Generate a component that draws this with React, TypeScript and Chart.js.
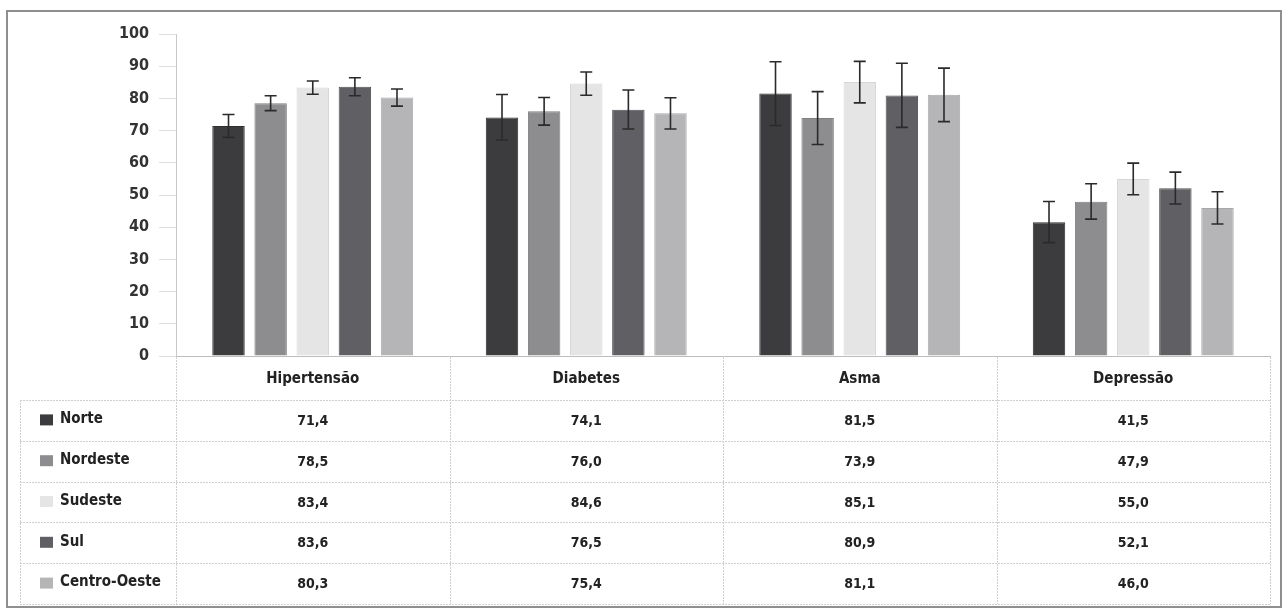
import React, { useEffect, useRef } from "react";
import { Chart, registerables } from "chart.js";

Chart.register(...registerables);

const categories = ["Hipertensão", "Diabetes", "Asma", "Depressão"];
const regions = ["Norte", "Nordeste", "Sudeste", "Sul", "Centro-Oeste"];

const norte = [71.4, 74.1, 81.5, 41.5];
const nordeste = [78.5, 76.0, 73.9, 47.9];
const sudeste = [83.4, 84.6, 85.1, 55.0];
const sul = [83.6, 76.5, 80.9, 52.1];
const centroOeste = [80.3, 75.4, 81.1, 46.0];

const norteLow = [67.9, 67.1, 71.6, 35.2];
const norteHigh = [75.0, 81.2, 91.4, 48.0];
const nordesteLow = [76.2, 71.7, 65.7, 42.5];
const nordesteHigh = [80.8, 80.3, 82.1, 53.5];
const sudesteLow = [81.3, 81.0, 78.6, 50.1];
const sudesteHigh = [85.4, 88.2, 91.5, 59.9];
const sulLow = [80.8, 70.5, 71.0, 47.2];
const sulHigh = [86.4, 82.6, 90.9, 57.1];
const centroOesteLow = [77.6, 70.5, 72.8, 41.0];
const centroOesteHigh = [82.9, 80.2, 89.4, 51.0];

const yTicks = [0, 10, 20, 30, 40, 50, 60, 70, 80, 90, 100];

const seriesValues = [norte, nordeste, sudeste, sul, centroOeste];
const seriesLow = [norteLow, nordesteLow, sudesteLow, sulLow, centroOesteLow];
const seriesHigh = [norteHigh, nordesteHigh, sudesteHigh, sulHigh, centroOesteHigh];
const colors = ["#3c3c3e", "#8d8d8f", "#e5e5e5", "#606064", "#b5b5b7"];
const borders = ["#2e2e30", "#7e7e80", "#d6d6d6", "#525256", "#a8a8aa"];

const FONT = "'Liberation Sans Narrow', 'DejaVu Sans Condensed', 'Arial Narrow', sans-serif";

const fmt = (v: number) => v.toFixed(1).replace(".", ",");

const errorBarPlugin = {
  id: "errorBars",
  afterDatasetsDraw(chart: any) {
    const ctx = chart.ctx;
    const y = chart.scales.y;
    ctx.save();
    ctx.strokeStyle = "#2a2a2a";
    ctx.lineWidth = 1.6;
    chart.data.datasets.forEach((ds: any, di: number) => {
      const meta = chart.getDatasetMeta(di);
      meta.data.forEach((el: any, i: number) => {
        const x = el.x;
        const yl = y.getPixelForValue(seriesLow[di][i]);
        const yh = y.getPixelForValue(seriesHigh[di][i]);
        const cap = 6;
        ctx.beginPath();
        ctx.moveTo(x, yl);
        ctx.lineTo(x, yh);
        ctx.moveTo(x - cap, yh);
        ctx.lineTo(x + cap, yh);
        ctx.moveTo(x - cap, yl);
        ctx.lineTo(x + cap, yl);
        ctx.stroke();
      });
    });
    ctx.restore();
  },
};

const tablePlugin = {
  id: "dataTable",
  afterDraw(chart: any) {
    const ctx = chart.ctx;
    const xs = chart.scales.x;
    const area = chart.chartArea;
    const n = categories.length;
    const colW = (area.right - area.left) / n;
    const headerTop = area.bottom + 1;
    const headerBottom = area.bottom + 44;
    const tableBottom = 604;
    const tableLeft = 20;
    const rowH = (tableBottom - headerBottom) / regions.length;

    ctx.save();
    ctx.strokeStyle = "#cfcfcf";
    ctx.lineWidth = 1;
    ctx.setLineDash([2, 1]);
    ctx.beginPath();
    // vertical lines
    for (let i = 0; i <= n; i++) {
      const x = Math.round(area.left + i * colW) + 0.5;
      ctx.moveTo(x, headerTop);
      ctx.lineTo(x, tableBottom);
    }
    ctx.moveTo(tableLeft + 0.5, headerBottom);
    ctx.lineTo(tableLeft + 0.5, tableBottom);
    // horizontal lines
    for (let r = 0; r <= regions.length; r++) {
      const yy = Math.round(headerBottom + r * rowH) + 0.5;
      ctx.moveTo(tableLeft, yy);
      ctx.lineTo(area.right, yy);
    }
    ctx.stroke();
    ctx.setLineDash([]);

    // rows
    ctx.textBaseline = "middle";
    regions.forEach((reg, r) => {
      const cy = headerBottom + (r + 0.5) * rowH;
      ctx.fillStyle = colors[r];
      ctx.fillRect(40, cy - 6, 13, 11);
      ctx.fillStyle = "#222";
      ctx.font = `bold 15px ${FONT}`;
      ctx.textAlign = "left";
      ctx.fillText(reg, 60, cy - 1);
      ctx.textAlign = "center";
      ctx.font = `bold 14px ${FONT}`;
      seriesValues[r].forEach((v, c) => {
        const cx = xs.getPixelForValue(c);
        ctx.fillText(fmt(v), cx, cy + 1);
      });
    });

    // outer frame
    ctx.strokeStyle = "#8f8f8f";
    ctx.lineWidth = 2;
    ctx.strokeRect(7, 11, 1274, 596);
    ctx.restore();
  },
};

export default function App() {
  const ref = useRef<HTMLCanvasElement | null>(null);

  useEffect(() => {
    if (!ref.current) return;
    const chart = new Chart(ref.current, {
      type: "bar",
      data: {
        labels: categories,
        datasets: regions.map((reg, i) => ({
          label: reg,
          data: seriesValues[i],
          backgroundColor: colors[i],
          borderColor: borders[i],
          borderWidth: 1,
          categoryPercentage: 0.77,
          barPercentage: 0.77,
        })),
      },
      options: {
        responsive: false,
        animation: false,
        layout: { padding: { left: 76, right: 13, top: 34, bottom: 212 } },
        plugins: {
          legend: { display: false },
          tooltip: { enabled: false },
        },
        scales: {
          x: {
            grid: { drawOnChartArea: false, drawTicks: false },
            border: { color: "#bdbdbd", width: 1 },
            ticks: {
              color: "#222",
              padding: 14,
              font: { family: FONT, size: 15, weight: "bold" },
            },
            afterFit: (s: any) => {
              s.height = 44;
            },
          },
          y: {
            min: 0,
            max: 100,
            afterBuildTicks: (s: any) => {
              s.ticks = yTicks.map((v) => ({ value: v }));
            },
            grid: {
              drawOnChartArea: false,
              drawTicks: true,
              tickLength: 17,
              color: "#dedede",
            },
            border: { color: "#c8c8c8", width: 1 },
            ticks: {
              color: "#333",
              padding: 10,
              font: { family: FONT, size: 16, weight: "bold" },
            },
            afterFit: (s: any) => {
              s.width = 100;
            },
          },
        },
      },
      plugins: [errorBarPlugin, tablePlugin],
    });
    return () => chart.destroy();
  }, []);

  return (
    <div style={{ position: "absolute", left: 0, top: 0, width: 1283, height: 612, background: "#fff" }}>
      <canvas ref={ref} width={1283} height={612} />
    </div>
  );
}
